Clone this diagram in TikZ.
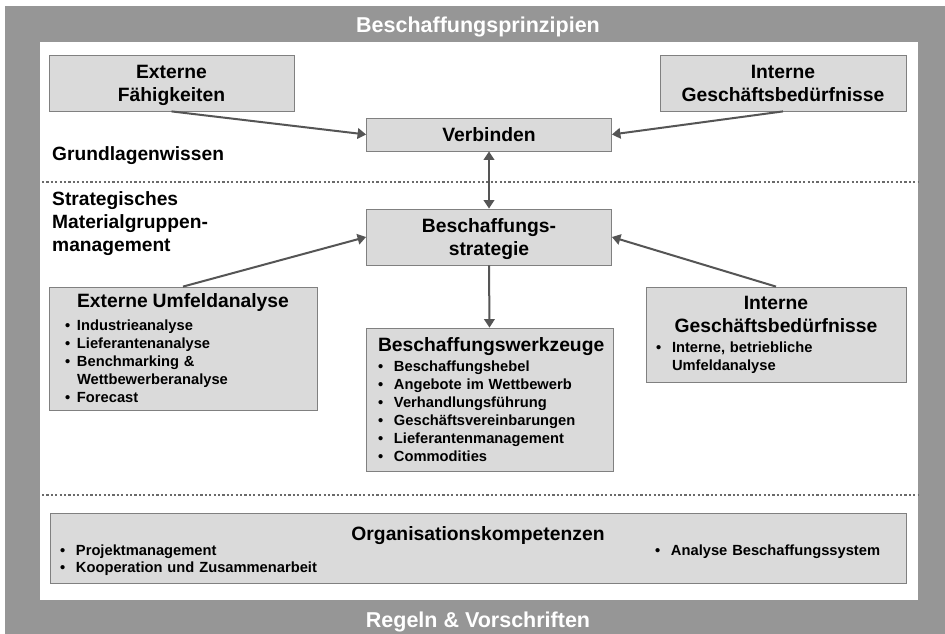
\documentclass[tikz,border=0pt]{standalone}
\usepackage{fontspec}
\setmainfont{Liberation Sans}
\usepackage{xcolor}
\usepackage{tikz}
\usetikzlibrary{arrows.meta,positioning}

\definecolor{framegray}{HTML}{969696}
\definecolor{boxfill}{HTML}{DADADA}
\definecolor{boxline}{HTML}{808080}
\definecolor{arrowgray}{HTML}{555555}
\definecolor{dotgray}{HTML}{6A6A6A}

% bullet item with hanging indent
\newcommand{\bul}[2][16pt]{\par\noindent\hangindent=#1\hangafter=1\makebox[#1][l]{\textbullet}#2\par}
% centred box title
\newcommand{\boxttl}[1]{{\centering\fontsize{19.3}{23}\selectfont #1\par}}

\begin{document}
\begin{tikzpicture}[
    x=1pt, y=-1pt,
    % grey boxes
    block/.style={draw=boxline, line width=0.8pt, fill=boxfill, align=center,
      font=\bfseries\fontsize{19.3}{23}\selectfont, inner sep=0pt, text depth=0pt},
    % boxes with bullet lists
    listblock/.style={draw=boxline, line width=0.8pt, fill=boxfill, align=left,
      font=\bfseries\fontsize{14.7}{18}\selectfont, inner ysep=0pt},
    % side labels
    sidelabel/.style={align=left, inner sep=0pt, font=\bfseries\fontsize{19.2}{23}\selectfont},
    bandlabel/.style={text=white, inner sep=0pt, font=\bfseries\fontsize{21.5}{24}\selectfont},
    link/.style={draw=arrowgray, line width=2pt, -{Triangle[length=8.5pt,width=10.5pt]}},
    sepline/.style={draw=dotgray, line width=2pt, dash pattern=on 2.2pt off 2.2pt},
  ]
  \useasboundingbox (0,0) rectangle (945,634);

  % frame
  \fill[framegray] (5,6) rectangle (945,634);
  \fill[white] (40,42) rectangle (918,600);
  \node[bandlabel, anchor=base] (prinz) at (478,33) {Beschaffungsprinzipien};
  \node[bandlabel, anchor=base] (regeln) at (478,627) {Regeln \& Vorschriften};

  % separators
  \draw[sepline] (42,182) -- (918,182);
  \draw[sepline] (42,495) -- (918,495);

  % Grundlagenwissen
  \node[sidelabel, anchor=base west] (grund) at (52,160) {Grundlagenwissen};
  \node[block, minimum width=245pt, minimum height=56pt] (extfaeh) at (171.5,83)
    {Externe\\Fähigkeiten};
  \node[block, minimum width=246pt, minimum height=56pt] (intbed) at (783,83)
    {Interne\\Geschäftsbedürfnisse};
  \node[block, minimum width=245pt, minimum height=33pt] (verb) at (489,134.5)
    {Verbinden};

  % strategisches Materialgruppenmanagement
  \node[sidelabel, anchor=north west] (matgr) at (52,191)
    {Strategisches\\Materialgruppen-\\management};
  \node[block, minimum width=245pt, minimum height=56pt] (strat) at (489,237)
    {Beschaffungs-\\strategie};
  \node[listblock, inner xsep=16pt, text width=236pt, minimum height=123pt] (extumf) at (183,348.5)
    {\boxttl{Externe Umfeldanalyse}\vspace{5pt}
     \bul[12pt]{Industrieanalyse}
     \bul[12pt]{Lieferantenanalyse}
     \bul[12pt]{Benchmarking \&\newline Wettbewerberanalyse}
     \bul[12pt]{Forecast}};
  \node[listblock, inner xsep=12pt, text width=223pt, minimum height=143pt] (werkz) at (489.5,399.5)
    {\vspace*{2pt}\boxttl{Beschaffungswerkzeuge}
     \bul{Beschaffungshebel}
     \bul{Angebote im Wettbewerb}
     \bul{Verhandlungsführung}
     \bul{Geschäftsvereinbarungen}
     \bul{Lieferantenmanagement}
     \bul{Commodities}};
  \node[listblock, inner xsep=10pt, text width=240pt, minimum height=95pt] (intumf) at (776,334.5)
    {\boxttl{Interne\\Geschäftsbedürfnisse}\vspace{2pt}
     \bul{Interne, betriebliche\newline Umfeldanalyse}};

  % Organisationskompetenzen
  \node[listblock, inner xsep=10pt, text width=836pt, minimum height=70pt] (orga) at (478,548)
    {\boxttl{\rule{0pt}{20pt}Organisationskompetenzen}\vspace{-3pt}
     \noindent\begin{minipage}[t]{595pt}
       \fontsize{14.7}{17}\selectfont
       \bul{Projektmanagement}
       \bul{Kooperation und Zusammenarbeit}
     \end{minipage}%
     \begin{minipage}[t]{241pt}
       \bul{Analyse Beschaffungssystem}
     \end{minipage}};

  % connections
  \draw[link] (extfaeh.south) -- (verb.west);
  \draw[link] (intbed.south) -- (verb.east);
  \draw[link, {Triangle[length=8.5pt,width=10.5pt]}-{Triangle[length=8.5pt,width=10.5pt]}] (verb.south) -- (strat.north);
  \draw[link] (extumf.north) -- (strat.west);
  \draw[link] (intumf.north) -- (strat.east);
  \draw[link] (strat.south) -- (werkz.north);
\end{tikzpicture}
\end{document}
